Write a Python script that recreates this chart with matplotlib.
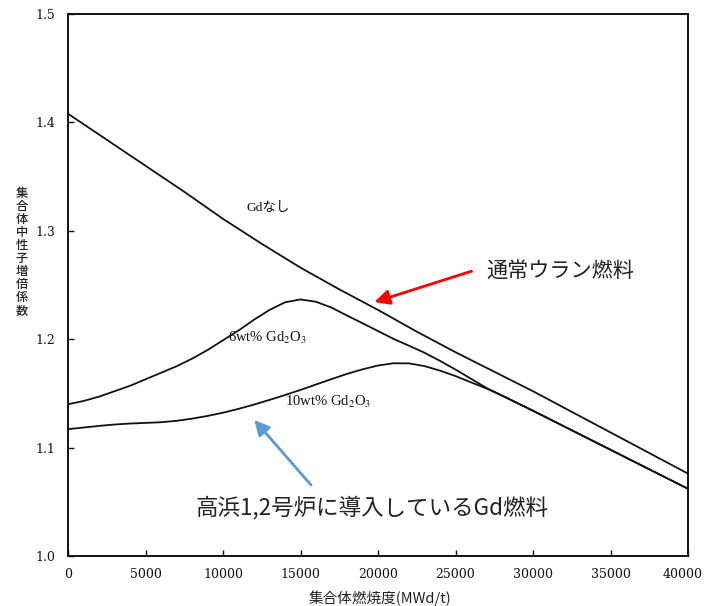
import matplotlib
matplotlib.use("Agg")
import matplotlib.pyplot as plt
import matplotlib.transforms as mtransforms

plt.rcParams['mathtext.fontset'] = 'stix'

# Data
burnup_nogd = [0, 2500, 5000, 7500, 10000, 12500, 15000, 17500, 20000, 22500, 25000,
               27500, 30000, 32500, 35000, 37500, 40000]
k_nogd = [1.408, 1.384, 1.360, 1.336, 1.311, 1.288, 1.266, 1.246, 1.227, 1.207, 1.188,
          1.170, 1.152, 1.133, 1.114, 1.095, 1.076]

burnup_6wt = [0, 1000, 2000, 3000, 4000, 5000, 6000, 7000, 8000, 9000, 10000, 11000,
              12000, 13000, 14000, 15000, 16000, 17000, 18000, 19000, 20000, 21000,
              22000, 23000, 24000, 25000, 26000, 27000, 28000, 30000, 32500, 35000,
              37500, 40000]
k_6wt = [1.140, 1.143, 1.147, 1.152, 1.157, 1.163, 1.169, 1.175, 1.182, 1.190, 1.199, 1.208,
         1.218, 1.227, 1.234, 1.2367, 1.2345, 1.2292, 1.2218, 1.2148, 1.2075, 1.2003,
         1.1940, 1.1875, 1.180, 1.172, 1.1635, 1.155, 1.148, 1.134, 1.116, 1.098,
         1.080, 1.062]

burnup_10wt = [0, 1000, 2000, 3000, 4000, 5000, 6000, 7000, 8000, 9000, 10000, 11000,
               12000, 13000, 14000, 15000, 16000, 17000, 18000, 19000, 20000, 21000,
               22000, 23000, 24000, 25000, 26000, 27000, 28000, 30000, 32500, 35000,
               37500, 40000]
k_10wt = [1.117, 1.1185, 1.1200, 1.1213, 1.1222, 1.1228, 1.1234, 1.1247, 1.1267, 1.1292, 1.1322,
          1.1357, 1.1397, 1.1440, 1.1485, 1.1532, 1.1582, 1.1632, 1.1680, 1.1722, 1.1757,
          1.1778, 1.1777, 1.1752, 1.1710, 1.1660, 1.1602, 1.1545, 1.148, 1.134, 1.116,
          1.098, 1.080, 1.062]

xticks = [0, 5000, 10000, 15000, 20000, 25000, 30000, 35000, 40000]
yticks = [1.0, 1.1, 1.2, 1.3, 1.4, 1.5]

W, H = 704, 606
fig = plt.figure(figsize=(W / 100, H / 100), dpi=100)
ax = fig.add_axes([68 / W, 1 - 556 / H, 620 / W, 542 / H])

lc = '#111111'
ax.plot(burnup_nogd, k_nogd, color=lc, lw=1.3)
ax.plot(burnup_6wt, k_6wt, color=lc, lw=1.3)
ax.plot(burnup_10wt, k_10wt, color=lc, lw=1.3)

ax.set_xlim(0, 40000)
ax.set_ylim(1.0, 1.5)
ax.set_xticks(xticks)
ax.set_yticks(yticks)
ax.set_xticklabels([str(v) for v in xticks], fontfamily='DejaVu Serif', fontsize=9)
ax.set_yticklabels([f"{v:.1f}" for v in yticks], fontfamily='DejaVu Serif', fontsize=9)
ax.tick_params(direction='in', length=4, width=1, colors=lc)
ax.tick_params(axis='x', pad=9)
ax.tick_params(axis='y', pad=9)
for s in ax.spines.values():
    s.set_linewidth(1.4)
    s.set_color(lc)

# keep the last x tick label inside the canvas
last = ax.get_xticklabels()[-1]
last.set_transform(last.get_transform() + mtransforms.ScaledTranslation(-5 / 100, 0, fig.dpi_scale_trans))

# axis labels
fig.text(22 / W, 1 - 252 / H, "\n".join("集合体中性子増倍係数"), ha='center', va='center',
         fontfamily=['Noto Sans CJK JP'], fontsize=8.8, fontweight='medium',
         linespacing=1.0, color='#222222')
fig.text(380 / W, 1 - 598 / H, "集合体燃焼度(MWd/t)", ha='center', va='center',
         fontfamily=['Noto Sans CJK JP'], fontsize=10.5, color='#222222')

# curve labels
ax.text(11500, 1.3215, "Gdなし", fontfamily=['Liberation Serif', 'Noto Sans CJK JP'],
        fontsize=9.7, ha='left', va='center', color=lc)
ax.text(10300, 1.2008, "6wt% Gd$_{2}$O$_{3}$", fontfamily='Liberation Serif',
        fontsize=10.5, ha='left', va='center', color=lc)
ax.text(14000, 1.1419, "10wt% Gd$_{2}$O$_{3}$", fontfamily='Liberation Serif',
        fontsize=10.5, ha='left', va='center', color=lc)

# annotations
ax.annotate("", xy=(19600, 1.2335), xytext=(26200, 1.2635),
            arrowprops=dict(arrowstyle='-|>,head_length=0.9,head_width=0.45',
                            color='#FF0000', lw=2))
ax.text(27000, 1.2635, "通常ウラン燃料", fontfamily=['Noto Sans CJK JP'], fontsize=15.2,
        ha='left', va='center', color='#222222')

ax.annotate("", xy=(11900, 1.1275), xytext=(15800, 1.0635),
            arrowprops=dict(arrowstyle='-|>,head_length=0.9,head_width=0.45',
                            color='#5B9BD5', lw=2))
ax.text(8200, 1.0445, "高浜1,2号炉に導入しているGd燃料", fontfamily=['Noto Sans CJK JP'],
        fontsize=16.2, ha='left', va='center', color='#222222')

fig.savefig("out.png", dpi=100)
